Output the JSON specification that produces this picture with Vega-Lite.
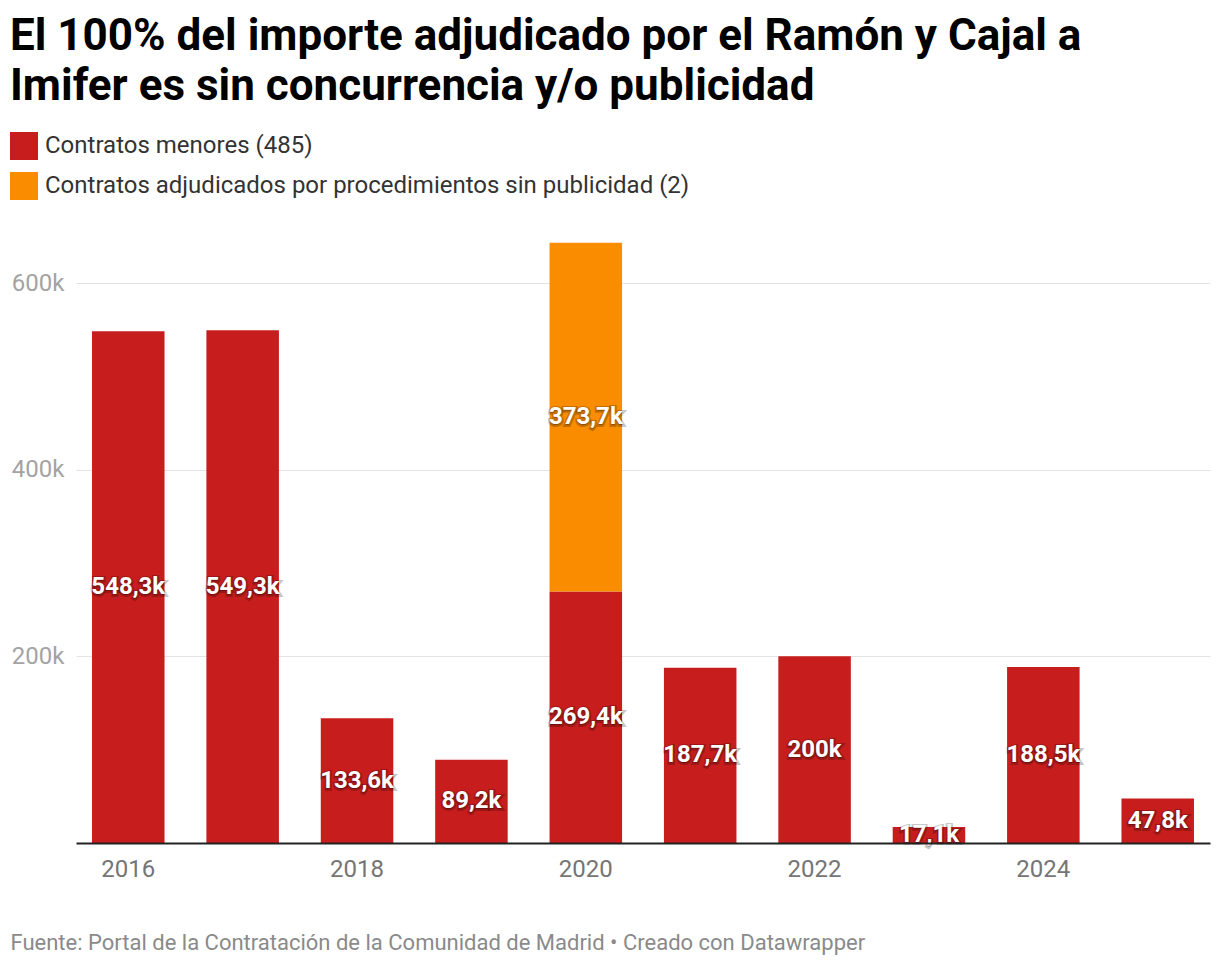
{
  "$schema": "https://vega.github.io/schema/vega-lite/v6.json",
  "width": 1134,
  "height": 616,
  "autosize": {"type": "none"},
  "padding": {"left": 76, "top": 227, "right": 10, "bottom": 123},
  "background": "#ffffff",
  "config": {
    "font": "Roboto",
    "view": {"stroke": null},
    "locale": {"number": {"decimal": ",", "thousands": ".", "grouping": [3], "currency": ["", " €"]}}
  },
  "title": {
    "text": ["El 100% del importe adjudicado por el Ramón y Cajal a", "Imifer es sin concurrencia y/o publicidad"],
    "anchor": "start",
    "frame": "group",
    "dx": -66,
    "offset": 23,
    "font": "Roboto",
    "fontSize": 44,
    "fontWeight": "bold",
    "color": "#000000",
    "lineHeight": 50
  },
  "data": {
    "values": [
      {"year": 2016, "tipo": "Contratos menores (485)", "orden": 1, "value": 548300},
      {"year": 2017, "tipo": "Contratos menores (485)", "orden": 1, "value": 549300},
      {"year": 2018, "tipo": "Contratos menores (485)", "orden": 1, "value": 133600},
      {"year": 2019, "tipo": "Contratos menores (485)", "orden": 1, "value": 89200},
      {"year": 2020, "tipo": "Contratos menores (485)", "orden": 1, "value": 269400},
      {"year": 2020, "tipo": "Contratos adjudicados por procedimientos sin publicidad (2)", "orden": 2, "value": 373700},
      {"year": 2021, "tipo": "Contratos menores (485)", "orden": 1, "value": 187700},
      {"year": 2022, "tipo": "Contratos menores (485)", "orden": 1, "value": 200000},
      {"year": 2023, "tipo": "Contratos menores (485)", "orden": 1, "value": 17100},
      {"year": 2024, "tipo": "Contratos menores (485)", "orden": 1, "value": 188500},
      {"year": 2025, "tipo": "Contratos menores (485)", "orden": 1, "value": 47800}
    ]
  },
  "transform": [
    {"stack": "value", "groupby": ["year"], "sort": [{"field": "orden"}], "as": ["v0", "v1"]},
    {"calculate": "(datum.v0 + datum.v1) / 2", "as": "mid"}
  ],
  "encoding": {
    "x": {
      "field": "year",
      "type": "ordinal",
      "scale": {"paddingInner": 0.366, "paddingOuter": 0.14},
      "axis": {
        "values": [2016, 2018, 2020, 2022, 2024],
        "labelAngle": 0,
        "labelFont": "Roboto",
        "labelFontSize": 24,
        "labelColor": "#757575",
        "labelPadding": 14,
        "ticks": false,
        "domainColor": "#222222",
        "domainWidth": 2,
        "grid": false,
        "title": "Fuente: Portal de la Contratación de la Comunidad de Madrid • Creado con Datawrapper",
        "titleAnchor": "start",
        "titleAlign": "left",
        "titleX": -66,
        "titleY": 99,
        "titleBaseline": "middle",
        "titleFont": "Roboto",
        "titleFontSize": 22,
        "titleFontWeight": "normal",
        "titleColor": "#8a8a8a",
        "zindex": 1
      }
    }
  },
  "layer": [
    {
      "mark": {"type": "bar"},
      "encoding": {
        "y": {
          "field": "v0",
          "type": "quantitative",
          "scale": {"domain": [0, 660000], "nice": false},
          "axis": {
            "values": [200000, 400000, 600000],
            "labelExpr": "datum.value / 1000 + 'k'",
            "labelFont": "Roboto",
            "labelFontSize": 24,
            "labelColor": "#a3a3a3",
            "labelPadding": 12,
            "ticks": false,
            "domain": false,
            "gridColor": "#e3e3e3",
            "gridWidth": 1,
            "title": null
          }
        },
        "y2": {"field": "v1"},
        "color": {
          "field": "tipo",
          "type": "nominal",
          "sort": ["Contratos menores (485)", "Contratos adjudicados por procedimientos sin publicidad (2)"],
          "scale": {
            "domain": ["Contratos menores (485)", "Contratos adjudicados por procedimientos sin publicidad (2)"],
            "range": ["#c71e1d", "#fa8c00"]
          },
          "legend": {
            "title": null,
            "orient": "none",
            "legendX": -66,
            "legendY": -95,
            "direction": "vertical",
            "symbolType": "square",
            "symbolSize": 784,
            "symbolStrokeWidth": 0,
            "symbolOpacity": 1,
            "labelFont": "Roboto",
            "labelFontSize": 24,
            "labelColor": "#333333",
            "labelOffset": 7,
            "rowPadding": 12,
            "padding": 0,
            "labelLimit": 1000
          }
        }
      }
    },
    {
      "mark": {"type": "text", "font": "Roboto", "fontSize": 24, "fontWeight": "bold", "fill": "#000000", "stroke": "#000000", "strokeWidth": 4, "strokeOpacity": 0.22, "fillOpacity": 0.3, "baseline": "middle", "align": "center", "dy": 1},
      "encoding": {
        "y": {"field": "mid", "type": "quantitative", "scale": {"domain": [0, 660000], "nice": false}},
        "text": {"field": "value", "type": "quantitative", "format": "~s"}
      }
    },
    {
      "mark": {"type": "text", "font": "Roboto", "fontSize": 24, "fontWeight": "bold", "fill": "#ffffff", "baseline": "middle", "align": "center"},
      "encoding": {
        "y": {"field": "mid", "type": "quantitative", "scale": {"domain": [0, 660000], "nice": false}},
        "text": {"field": "value", "type": "quantitative", "format": "~s"}
      }
    }
  ]
}
